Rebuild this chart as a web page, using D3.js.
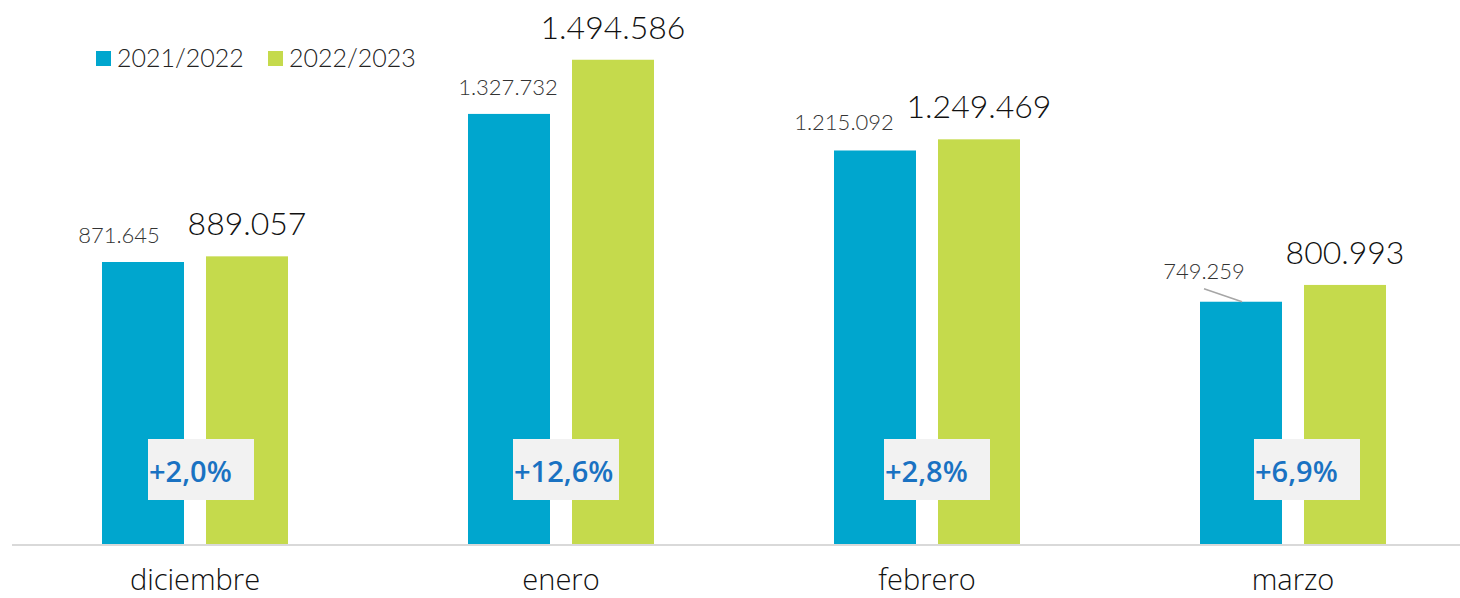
<!DOCTYPE html>
<html>
<head>
<meta charset="utf-8">
<script src="https://cdn.jsdelivr.net/npm/d3@7"></script>
<style>
  html, body { margin: 0; padding: 0; background: #fff; }
  svg { display: block; }
</style>
</head>
<body>
<script>
// ---- data ----
const categories = ["diciembre", "enero", "febrero", "marzo"];
const seriesNames = ["2021/2022", "2022/2023"];
const values2122 = [871645, 1327732, 1215092, 749259];
const values2223 = [889057, 1494586, 1249469, 800993];
const labels2122 = ["871.645", "1.327.732", "1.215.092", "749.259"];
const labels2223 = ["889.057", "1.494.586", "1.249.469", "800.993"];
const changeLabels = ["+2,0%", "+12,6%", "+2,8%", "+6,9%"];

// ---- layout / style (not data) ----
const W = 1460, H = 598;
const colors = ["#00A6CE", "#C5DA4C"];
const smallLabelNudge = [[-24, -19], [-1, -19], [-31, -20], [-37, -23]]; // dx, dy for 2021/2022 labels
const leaderLines = [null, null, null, [[-37, -13], [1, 0]]];
const boxNudge = [-47, -48, -43, -39];

const svg = d3.select("body").append("svg").attr("width", W).attr("height", H);

const x0 = d3.scaleBand().domain(categories).range([12, 1476]).paddingInner(0).paddingOuter(0);
const x1 = d3.scaleBand().domain(seriesNames).range([90, 276]).paddingInner(22 / 104).paddingOuter(0);
const y = d3.scaleLinear().domain([0, 1678600]).range([545, 0]);

const rows = categories.map((c, i) => ({ c, i, v: [values2122[i], values2223[i]] }));

// bars
const g = svg.append("g");
rows.forEach(r => {
  seriesNames.forEach((s, k) => {
    g.append("rect")
      .attr("x", x0(r.c) + x1(s))
      .attr("y", y(r.v[k]))
      .attr("width", x1.bandwidth())
      .attr("height", y(0) - y(r.v[k]))
      .attr("fill", colors[k]);
  });
});

// axis line
svg.append("line").attr("x1", 12).attr("x2", W).attr("y1", y(0)).attr("y2", y(0))
  .attr("stroke", "#D9D9D9").attr("stroke-width", 2);

// category axis labels
const xAxis = d3.axisBottom(x0).tickSize(0).tickPadding(0);
const ax = svg.append("g").attr("transform", `translate(0,${y(0)})`).call(xAxis);
ax.select(".domain").remove();
ax.selectAll("text")
  .attr("y", 45).attr("dy", 0)
  .attr("font-family", "'Open Sans', Lato, sans-serif")
  .attr("font-weight", 300)
  .attr("font-size", 29)
  .attr("fill", "#111");

// value labels 2022/2023 (large)
rows.forEach(r => {
  const cx = x0(r.c) + x1(seriesNames[1]) + x1.bandwidth() / 2;
  svg.append("text")
    .attr("x", cx).attr("y", y(r.v[1]) - 21)
    .attr("text-anchor", "middle")
    .attr("font-family", "Lato, 'Open Sans', sans-serif")
    .attr("font-weight", 300)
    .attr("font-size", 32)
    .attr("fill", "#111")
    .text(labels2223[r.i]);
});

// value labels 2021/2022 (small)
rows.forEach(r => {
  const cx = x0(r.c) + x1(seriesNames[0]) + x1.bandwidth() / 2;
  const top = y(r.v[0]);
  const [dx, dy] = smallLabelNudge[r.i];
  svg.append("text")
    .attr("x", cx + dx).attr("y", top + dy)
    .attr("text-anchor", "middle")
    .attr("font-family", "Lato, 'Open Sans', sans-serif")
    .attr("font-weight", 300)
    .attr("font-size", 22)
    .attr("fill", "#333")
    .text(labels2122[r.i]);
  const ll = leaderLines[r.i];
  if (ll) {
    svg.append("line")
      .attr("x1", cx + ll[0][0]).attr("y1", top + ll[0][1])
      .attr("x2", cx + ll[1][0]).attr("y2", top + ll[1][1])
      .attr("stroke", "#A6A6A6").attr("stroke-width", 1.5);
  }
});

// change boxes
rows.forEach(r => {
  const cx = x0(r.c) + x0.bandwidth() / 2;
  const bx = cx + boxNudge[r.i];
  svg.append("rect")
    .attr("x", bx).attr("y", 439).attr("width", 106).attr("height", 61)
    .attr("fill", "#F2F2F2");
  svg.append("text")
    .attr("x", bx + 1).attr("y", 482)
    .attr("font-family", "'Open Sans', Lato, sans-serif")
    .attr("font-weight", 600)
    .attr("font-size", 29)
    .attr("fill", "#1A72C2")
    .text(changeLabels[r.i]);
});

// legend
const lg = svg.append("g");
const legX = [96, 268];
seriesNames.forEach((s, k) => {
  lg.append("rect").attr("x", legX[k]).attr("y", 51).attr("width", 15).attr("height", 15).attr("fill", colors[k]);
  lg.append("text").attr("x", legX[k] + 21).attr("y", 67)
    .attr("font-family", "Lato, 'Open Sans', sans-serif")
    .attr("font-weight", 300)
    .attr("font-size", 25)
    .attr("fill", "#222")
    .text(s);
});
</script>
</body>
</html>
